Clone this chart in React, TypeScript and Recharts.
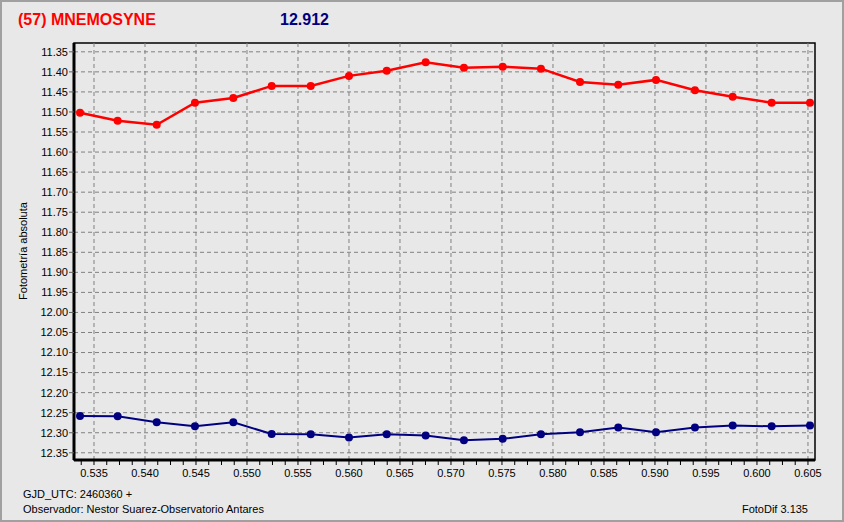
import {
  Line,
  LineChart,
  ReferenceArea,
  ReferenceLine,
  XAxis,
  YAxis,
} from "recharts";

// time offsets (GJD_UTC - 2460360)
const jd = [
  0.53363, 0.53732, 0.54115, 0.5449, 0.54866, 0.55242, 0.55625, 0.56, 0.5637,
  0.56752, 0.57127, 0.57507, 0.57882, 0.58265, 0.5864, 0.5901, 0.59392,
  0.59762, 0.60144, 0.6052,
];

// asteroid magnitude (red)
const target = [
  11.502, 11.522, 11.532, 11.477, 11.465, 11.435, 11.435, 11.41, 11.397,
  11.376, 11.39, 11.387, 11.392, 11.425, 11.432, 11.42, 11.446, 11.462,
  11.477, 11.477,
];

// comparison star (blue)
const comparison = [
  12.258, 12.259, 12.274, 12.284, 12.274, 12.303, 12.304, 12.312, 12.304,
  12.307, 12.319, 12.315, 12.304, 12.299, 12.287, 12.299, 12.287, 12.282,
  12.284, 12.282,
];

const xMajor = [
  0.535, 0.54, 0.545, 0.55, 0.555, 0.56, 0.565, 0.57, 0.575, 0.58, 0.585, 0.59,
  0.595, 0.6, 0.605,
];

const yTicks = [
  11.35, 11.4, 11.45, 11.5, 11.55, 11.6, 11.65, 11.7, 11.75, 11.8, 11.85, 11.9,
  11.95, 12.0, 12.05, 12.1, 12.15, 12.2, 12.25, 12.3, 12.35,
];

const X_DOMAIN = [0.53304, 0.60569];
const Y_DOMAIN = [11.328, 12.368];

const data = jd.map((x, i) => ({ x, target: target[i], comparison: comparison[i] }));

// minor ticks: 4 per major interval
const xAllTicks: number[] = [];
for (let i = -1; i < xMajor.length * 4; i++) {
  const v = +(xMajor[0] + i * 0.00125).toFixed(5);
  if (v >= X_DOMAIN[0] && v <= X_DOMAIN[1]) xAllTicks.push(v);
}

const FONT = "'Liberation Sans', Arial, sans-serif";
const BG = "#e8e8e8";
const GRID = "#808080";

const XTick = (props: any) => {
  const { x, y, payload } = props;
  const v = payload.value as number;
  const major = xMajor.some((m) => Math.abs(m - v) < 1e-6);
  return (
    <g>
      <line x1={x} x2={x} y1={y + 1} y2={y + 5} stroke="#000" />
      {major && (
        <text x={x} y={y + 17} textAnchor="middle" fontSize={11} fontFamily={FONT} fill="#000">
          {v.toFixed(3)}
        </text>
      )}
    </g>
  );
};

export default function App() {
  return (
    <div
      style={{
        position: "absolute",
        left: 0,
        top: 0,
        width: 844,
        height: 522,
        background: BG,
      }}
    >
      <LineChart
        width={844}
        height={522}
        data={data}
        margin={{ top: 43, right: 29, left: 0, bottom: 0 }}
      >
        {yTicks.map((v) => (
          <ReferenceLine key={"y" + v} y={v} stroke={GRID} strokeDasharray="4 3" />
        ))}
        {xMajor.map((v) => (
          <ReferenceLine key={"x" + v} x={v} stroke={GRID} strokeDasharray="4 3" />
        ))}
        <ReferenceArea
          x1={X_DOMAIN[0]}
          x2={X_DOMAIN[1]}
          y1={Y_DOMAIN[0]}
          y2={Y_DOMAIN[1]}
          fill="none"
          fillOpacity={0}
          stroke="#000"
          strokeWidth={1.5}
        />
        <XAxis
          dataKey="x"
          type="number"
          domain={X_DOMAIN}
          allowDataOverflow
          ticks={xAllTicks}
          interval={0}
          height={62}
          tickSize={0}
          tickMargin={0}
          tickLine={false}
          tick={<XTick />}
          axisLine={{ stroke: "#000", strokeWidth: 3 }}
        />
        <YAxis
          type="number"
          reversed
          domain={Y_DOMAIN}
          allowDataOverflow
          ticks={yTicks}
          interval={0}
          width={74}
          tickSize={5}
          tickMargin={1}
          tickFormatter={(v: number) => v.toFixed(2)}
          tick={{ fontSize: 11, fontFamily: FONT, fill: "#000" }}
          tickLine={{ stroke: "#606060" }}
          axisLine={{ stroke: "#000", strokeWidth: 3 }}
        />
        <Line
          dataKey="target"
          type="linear"
          stroke="#ff0000"
          strokeWidth={2.5}
          dot={{ r: 4, fill: "#ff0000", stroke: "none" }}
          isAnimationActive={false}
        />
        <Line
          dataKey="comparison"
          type="linear"
          stroke="#000080"
          strokeWidth={2}
          dot={{ r: 4, fill: "#000080", stroke: "none" }}
          isAnimationActive={false}
        />
      </LineChart>
      <svg
        width={844}
        height={522}
        style={{ position: "absolute", left: 0, top: 0, pointerEvents: "none" }}
      >
        <text x={18} y={25} fontSize={16} fontWeight="bold" fontFamily={FONT} fill="#ff0000">
          (57) MNEMOSYNE
        </text>
        <text x={280} y={25} fontSize={16} fontWeight="bold" fontFamily={FONT} fill="#000080">
          12.912
        </text>
        <text
          transform="translate(26.5,251) rotate(-90)"
          textAnchor="middle"
          fontSize={11}
          fontFamily={FONT}
          fill="#000"
        >
          Fotometría absoluta
        </text>
        <text x={23} y={498} fontSize={11} fontFamily={FONT} fill="#000">
          GJD_UTC: 2460360 +
        </text>
        <text x={23} y={513} fontSize={11} fontFamily={FONT} fill="#000">
          Observador: Nestor Suarez-Observatorio Antares
        </text>
        <text x={808} y={513} textAnchor="end" fontSize={11} fontFamily={FONT} fill="#000">
          FotoDif 3.135
        </text>
        <rect x={1} y={1} width={842} height={520} fill="none" stroke="#a0a0a0" strokeWidth={2} />
      </svg>
    </div>
  );
}
